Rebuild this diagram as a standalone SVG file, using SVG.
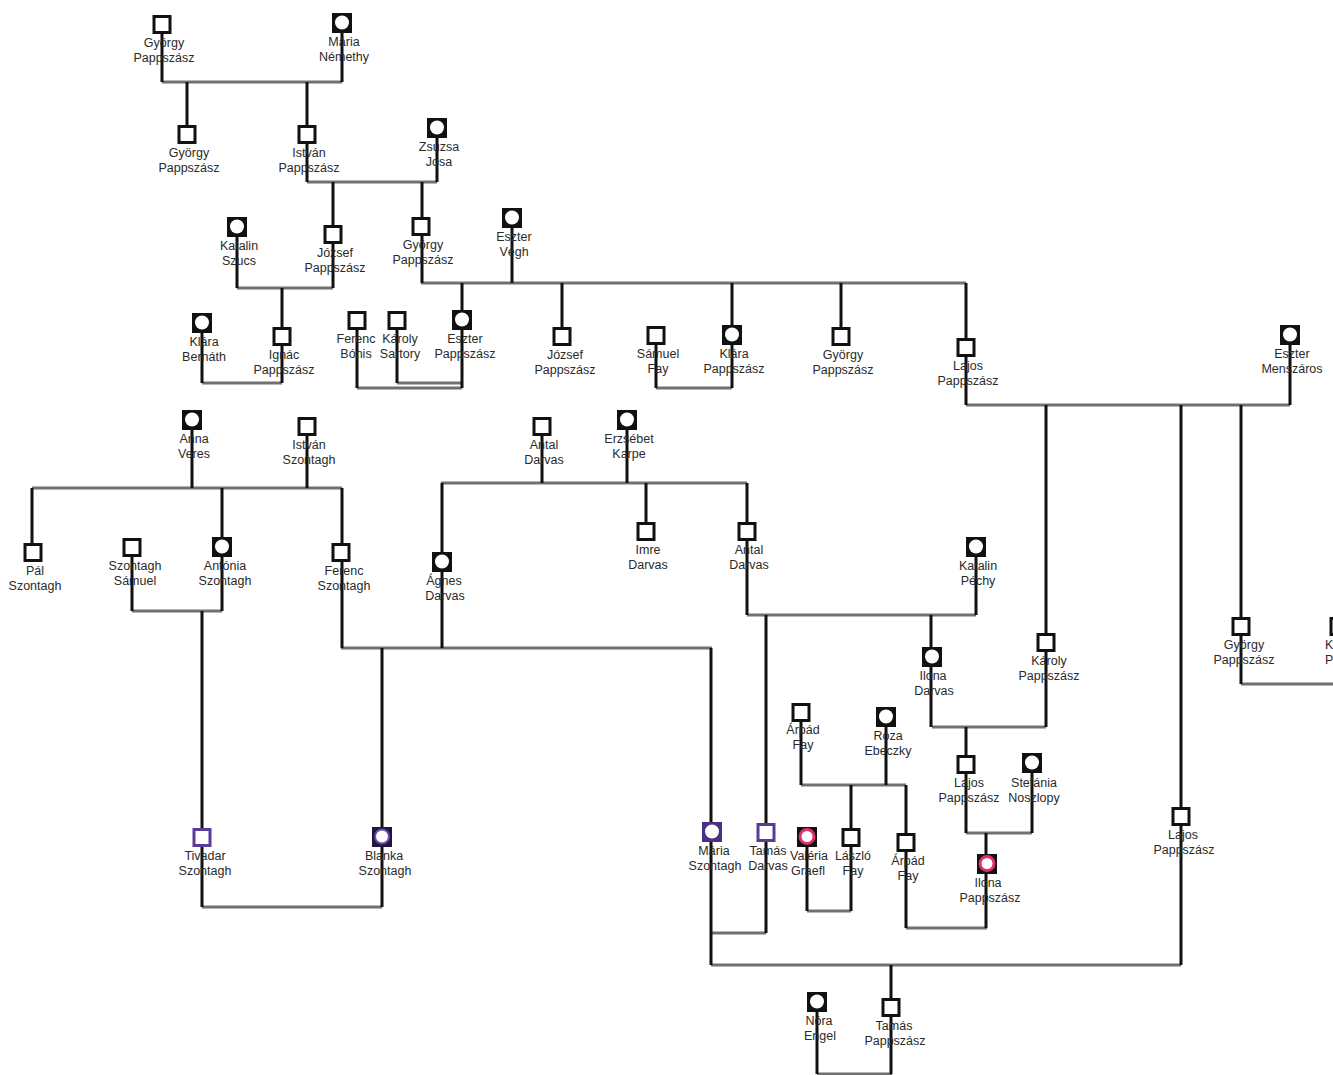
<svg xmlns="http://www.w3.org/2000/svg" width="1333" height="1075" viewBox="0 0 1333 1075">
<style>
.h{stroke:#707070;stroke-width:3;fill:none}
.v{stroke:#111;stroke-width:3;fill:none}
.m{fill:#fff;stroke:#111;stroke-width:3}
.mp{fill:#fff;stroke:#5a3a9c;stroke-width:3}
.f{fill:#111}
.fp{fill:#4b2f87}
.fb{fill:#1e1838}
.c{fill:#fff}
.cp{fill:#fff;stroke:#6a48b0;stroke-width:2}
.ck{fill:#fff;stroke:#e0306a;stroke-width:3}
text{font-family:"Liberation Sans",Arial,sans-serif;font-size:12.5px;fill:#2a2a2a;text-anchor:middle}
</style>
<rect width="1333" height="1075" fill="#fff"/>
<g id="connectors">
<path class="h" d="M162 82H342M307 182H437M237 288H333M421 283H966M202 383H282M357 388H462M397 383H462M656 388H732M966 405H1290M32 488H342M441 483H747M132 611H222M747 615H976M341 648H712M1241 684H1333M932 727H1046M801 785H906M966 833H1032M202 907H382M807 911H851M906 928H987M712 933H766M711 965H1181M817 1074H892"/>
<path class="v" d="M162 33V82M342 33V82M187 82V125M307 82V182M437 138V182M333 182V288M422 182V283M237 237V288M512 228V283M282 288V383M202 333V383M462 283V388M357 329V388M397 329V383M562 283V327M732 283V388M656 344V388M841 283V327M966 283V405M1290 345V405M1046 405V727M1181 405V965M1241 405V684M192 430V488M307 435V488M32 488V543M222 488V611M342 488V648M132 556V611M202 611V907M542 435V483M627 430V483M442 483V648M646 483V522M747 483V615M976 557V615M766 615V933M931 615V727M382 648V907M711 648V965M966 727V833M801 721V785M886 727V785M851 785V911M906 785V928M807 847V911M1032 773V833M986 833V928M891 965V1074M817 1012V1074"/>
</g>
<g id="gyorgy1"><rect class="m" x="154" y="16.5" width="16" height="16"/><text x="164" y="47">György</text><text x="164" y="62">Pappszász</text></g>
<g id="maria1"><rect class="f" x="332" y="13" width="20" height="20"/><circle class="c" cx="342" cy="22.5" r="7"/><text x="344" y="46">Mária</text><text x="344" y="61">Némethy</text></g>
<g id="gyorgy2"><rect class="m" x="179" y="126.5" width="16" height="16"/><text x="189" y="157">György</text><text x="189" y="172">Pappszász</text></g>
<g id="istvan1"><rect class="m" x="299" y="126.5" width="16" height="16"/><text x="309" y="157">István</text><text x="309" y="172">Pappszász</text></g>
<g id="zsuzsa"><rect class="f" x="427" y="118" width="20" height="20"/><circle class="c" cx="437" cy="127.5" r="7"/><text x="439" y="151">Zsuzsa</text><text x="439" y="166">Josa</text></g>
<g id="katalin1"><rect class="f" x="227" y="217" width="20" height="20"/><circle class="c" cx="237" cy="226.5" r="7"/><text x="239" y="250">Katalin</text><text x="239" y="265">Szucs</text></g>
<g id="jozsef1"><rect class="m" x="325" y="226.5" width="16" height="16"/><text x="335" y="257">József</text><text x="335" y="272">Pappszász</text></g>
<g id="gyorgy3"><rect class="m" x="413" y="218.5" width="16" height="16"/><text x="423" y="249">György</text><text x="423" y="264">Pappszász</text></g>
<g id="eszterV"><rect class="f" x="502" y="208" width="20" height="20"/><circle class="c" cx="512" cy="217.5" r="7"/><text x="514" y="241">Eszter</text><text x="514" y="256">Végh</text></g>
<g id="klaraB"><rect class="f" x="192" y="313" width="20" height="20"/><circle class="c" cx="202" cy="322.5" r="7"/><text x="204" y="346">Klára</text><text x="204" y="361">Bernáth</text></g>
<g id="ignac"><rect class="m" x="274" y="328.5" width="16" height="16"/><text x="284" y="359">Ignác</text><text x="284" y="374">Pappszász</text></g>
<g id="ferencB"><rect class="m" x="349" y="312.5" width="16" height="16"/><text x="356" y="343">Ferenc</text><text x="356" y="358">Bónis</text></g>
<g id="karolyS"><rect class="m" x="389" y="312.5" width="16" height="16"/><text x="400" y="343">Károly</text><text x="400" y="358">Sartory</text></g>
<g id="eszterP"><rect class="f" x="452" y="310" width="20" height="20"/><circle class="c" cx="462" cy="319.5" r="7"/><text x="465" y="343">Eszter</text><text x="465" y="358">Pappszász</text></g>
<g id="jozsef2"><rect class="m" x="554" y="328.5" width="16" height="16"/><text x="565" y="359">József</text><text x="565" y="374">Pappszász</text></g>
<g id="samuelF"><rect class="m" x="648" y="327.5" width="16" height="16"/><text x="658" y="358">Sámuel</text><text x="658" y="373">Fay</text></g>
<g id="klaraP"><rect class="f" x="722" y="325" width="20" height="20"/><circle class="c" cx="732" cy="334.5" r="7"/><text x="734" y="358">Klára</text><text x="734" y="373">Pappszász</text></g>
<g id="gyorgy4"><rect class="m" x="833" y="328.5" width="16" height="16"/><text x="843" y="359">György</text><text x="843" y="374">Pappszász</text></g>
<g id="lajos1"><rect class="m" x="958" y="339.5" width="16" height="16"/><text x="968" y="370">Lajos</text><text x="968" y="385">Pappszász</text></g>
<g id="eszterM"><rect class="f" x="1280" y="325" width="20" height="20"/><circle class="c" cx="1290" cy="334.5" r="7"/><text x="1292" y="358">Eszter</text><text x="1292" y="373">Menszáros</text></g>
<g id="anna"><rect class="f" x="182" y="410" width="20" height="20"/><circle class="c" cx="192" cy="419.5" r="7"/><text x="194" y="443">Anna</text><text x="194" y="458">Veres</text></g>
<g id="istvanS"><rect class="m" x="299" y="418.5" width="16" height="16"/><text x="309" y="449">István</text><text x="309" y="464">Szontagh</text></g>
<g id="antal1"><rect class="m" x="534" y="418.5" width="16" height="16"/><text x="544" y="449">Antal</text><text x="544" y="464">Darvas</text></g>
<g id="erzsebet"><rect class="f" x="617" y="410" width="20" height="20"/><circle class="c" cx="627" cy="419.5" r="7"/><text x="629" y="443">Erzsébet</text><text x="629" y="458">Karpe</text></g>
<g id="pal"><rect class="m" x="25" y="544.5" width="16" height="16"/><text x="35" y="575">Pál</text><text x="35" y="590">Szontagh</text></g>
<g id="samuelS"><rect class="m" x="124" y="539.5" width="16" height="16"/><text x="135" y="570">Szontagh</text><text x="135" y="585">Sámuel</text></g>
<g id="antonia"><rect class="f" x="212" y="537" width="20" height="20"/><circle class="c" cx="222" cy="546.5" r="7"/><text x="225" y="570">Antónia</text><text x="225" y="585">Szontagh</text></g>
<g id="ferencS"><rect class="m" x="333" y="544.5" width="16" height="16"/><text x="344" y="575">Ferenc</text><text x="344" y="590">Szontagh</text></g>
<g id="agnes"><rect class="f" x="432" y="552" width="20" height="20"/><circle class="c" cx="442" cy="561.5" r="7"/><text x="444" y="585">Ágnes</text><text x="445" y="600">Darvas</text></g>
<g id="imre"><rect class="m" x="638" y="523.5" width="16" height="16"/><text x="648" y="554">Imre</text><text x="648" y="569">Darvas</text></g>
<g id="antal2"><rect class="m" x="739" y="523.5" width="16" height="16"/><text x="749" y="554">Antal</text><text x="749" y="569">Darvas</text></g>
<g id="katalinP"><rect class="f" x="966" y="537" width="20" height="20"/><circle class="c" cx="976" cy="546.5" r="7"/><text x="978" y="570">Katalin</text><text x="978" y="585">Péchy</text></g>
<g id="ilonaD"><rect class="f" x="922" y="647" width="20" height="20"/><circle class="c" cx="932" cy="656.5" r="7"/><text x="933" y="680">Ilona</text><text x="934" y="695">Darvas</text></g>
<g id="karolyP"><rect class="m" x="1038" y="634.5" width="16" height="16"/><text x="1049" y="665">Károly</text><text x="1049" y="680">Pappszász</text></g>
<g id="gyorgy5"><rect class="m" x="1233" y="618.5" width="16" height="16"/><text x="1244" y="649">György</text><text x="1244" y="664">Pappszász</text></g>
<g id="partial"><rect class="m" x="1331" y="618.5" width="16" height="16"/><text x="1325" y="649" style="text-anchor:start">K</text><text x="1325" y="664" style="text-anchor:start">P</text></g>
<g id="arpad1"><rect class="m" x="793" y="704.5" width="16" height="16"/><text x="803" y="734">Árpád</text><text x="803" y="749">Fay</text></g>
<g id="roza"><rect class="f" x="876" y="707" width="20" height="20"/><circle class="c" cx="886" cy="716.5" r="7"/><text x="888" y="740">Róza</text><text x="888" y="755">Ebeczky</text></g>
<g id="lajos2"><rect class="m" x="958" y="756.5" width="16" height="16"/><text x="969" y="787">Lajos</text><text x="969" y="802">Pappszász</text></g>
<g id="stefania"><rect class="f" x="1022" y="753" width="20" height="20"/><circle class="c" cx="1032" cy="762.5" r="7"/><text x="1034" y="787">Stefánia</text><text x="1034" y="802">Noszlopy</text></g>
<g id="tivadar"><rect class="mp" x="194" y="829.5" width="16" height="16"/><text x="205" y="860">Tivadar</text><text x="205" y="875">Szontagh</text></g>
<g id="blanka"><rect class="fb" x="372" y="827" width="20" height="20"/><circle class="cp" cx="382" cy="836.5" r="7"/><text x="384" y="860">Blanka</text><text x="385" y="875">Szontagh</text></g>
<g id="mariaS"><rect class="fp" x="702" y="822" width="20" height="20"/><circle class="c" cx="712" cy="831.5" r="7"/><text x="714" y="855">Mária</text><text x="715" y="870">Szontagh</text></g>
<g id="tamasD"><rect class="mp" x="758" y="824.5" width="16" height="16"/><text x="768" y="855">Tamás</text><text x="768" y="870">Darvas</text></g>
<g id="valeria"><rect class="f" x="797" y="827" width="20" height="20"/><circle class="ck" cx="807" cy="836.5" r="7"/><text x="809" y="860">Valéria</text><text x="808" y="875">Graefl</text></g>
<g id="laszlo"><rect class="m" x="843" y="829.5" width="16" height="16"/><text x="853" y="860">László</text><text x="853" y="875">Fay</text></g>
<g id="arpad2"><rect class="m" x="898" y="834.5" width="16" height="16"/><text x="908" y="865">Árpád</text><text x="908" y="880">Fay</text></g>
<g id="ilonaP"><rect class="f" x="977" y="854" width="20" height="20"/><circle class="ck" cx="987" cy="863.5" r="7"/><text x="988" y="887">Ilona</text><text x="990" y="902">Pappszász</text></g>
<g id="lajos3"><rect class="m" x="1173" y="808.5" width="16" height="16"/><text x="1183" y="839">Lajos</text><text x="1184" y="854">Pappszász</text></g>
<g id="nora"><rect class="f" x="807" y="992" width="20" height="20"/><circle class="c" cx="817" cy="1001.5" r="7"/><text x="819" y="1025">Nóra</text><text x="820" y="1040">Engel</text></g>
<g id="tamasP"><rect class="m" x="883" y="999.5" width="16" height="16"/><text x="894" y="1030">Tamás</text><text x="895" y="1045">Pappszász</text></g>
</svg>
